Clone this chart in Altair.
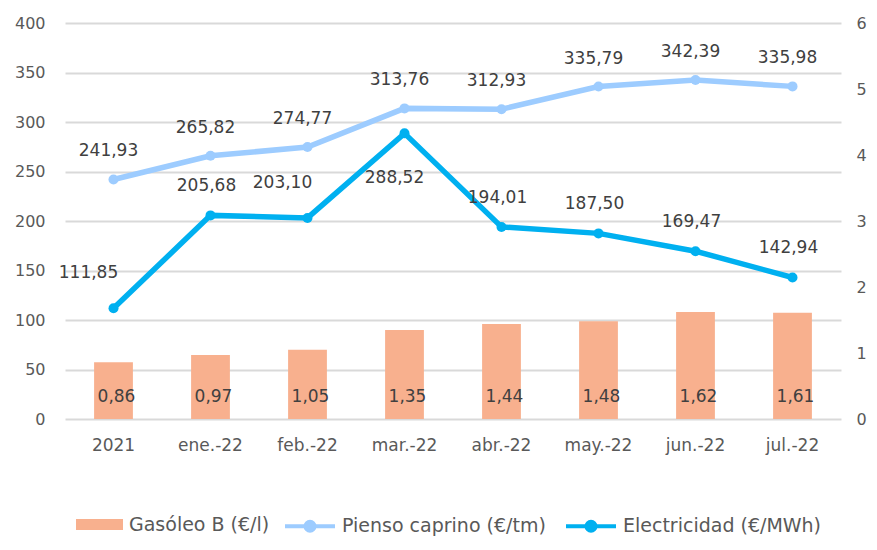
import altair as alt
import pandas as pd

meses = ["2021", "ene.-22", "feb.-22", "mar.-22", "abr.-22", "may.-22", "jun.-22", "jul.-22"]
gasoleo = [0.86, 0.97, 1.05, 1.35, 1.44, 1.48, 1.62, 1.61]
pienso = [241.93, 265.82, 274.77, 313.76, 312.93, 335.79, 342.39, 335.98]
electricidad = [111.85, 205.68, 203.10, 288.52, 194.01, 187.50, 169.47, 142.94]

S_GAS = "Gasóleo B (€/l)"
S_PIE = "Pienso caprino (€/tm)"
S_ELE = "Electricidad (€/MWh)"

C_GAS = "#F8B08E"
C_PIE = "#9DCCFF"
C_ELE = "#00B0F0"
TXT = "#595959"
LBL = "#404040"
FONT = "DejaVu Sans"

bars_df = pd.DataFrame({"mes": meses, "valor": gasoleo, "serie": S_GAS})
lines_df = pd.concat([
    pd.DataFrame({"mes": meses, "valor": pienso, "serie": S_PIE}),
    pd.DataFrame({"mes": meses, "valor": electricidad, "serie": S_ELE}),
], ignore_index=True)

label_expr = "replace(format(datum.valor, '.2f'), '.', ',')"

x = alt.X(
    "mes:N", sort=meses,
    scale=alt.Scale(paddingInner=0.6, paddingOuter=0.3),
    axis=alt.Axis(title=None, labelAngle=0, ticks=False, domain=False, grid=False,
                  labelPadding=18, labelFontSize=17, labelColor=TXT, labelFont=FONT),
)

# ---- bars (right axis) ----
yR = alt.Y(
    "valor:Q", scale=alt.Scale(domain=[0, 6]),
    axis=alt.Axis(orient="right", values=[0, 1, 2, 3, 4, 5, 6], grid=False, ticks=False,
                  domain=False, labelPadding=15, title=None, labelFontSize=16,
                  labelColor=TXT, labelFont=FONT, format="d"),
)
bar_base = alt.Chart(bars_df).transform_calculate(lab=label_expr)
bars = bar_base.mark_bar().encode(
    x=x, y=yR,
    fill=alt.Fill("serie:N", scale=alt.Scale(domain=[S_GAS], range=[C_GAS]),
                  legend=alt.Legend(orient="none", legendX=11, legendY=478, title=None,
                                    symbolType="M-1,-0.23H1V0.23H-1Z", symbolSize=2209,
                                    symbolStrokeWidth=0, symbolOpacity=1,
                                    labelFontSize=19, labelColor=TXT, labelFont=FONT,
                                    labelOffset=6, labelLimit=0, padding=0)),
)
bar_text = bar_base.mark_text(dy=-22, dx=3, baseline="middle", fontSize=17,
                              color=LBL, font=FONT).encode(
    x=x, y=alt.datum(0), text="lab:N")
bar_layer = alt.layer(bars, bar_text)

# ---- lines (left axis) ----
yL = alt.Y(
    "valor:Q", scale=alt.Scale(domain=[0, 400]),
    axis=alt.Axis(orient="left", values=list(range(0, 401, 50)), grid=True,
                  gridColor="#D9D9D9", gridWidth=2, ticks=False, domain=False,
                  labelPadding=20, title=None, labelFontSize=16, labelColor=TXT,
                  labelFont=FONT),
)
line_base = alt.Chart(lines_df).transform_calculate(lab=label_expr)
lines = line_base.mark_line(strokeWidth=5.5, point=alt.OverlayMarkDef(size=100, filled=True)).encode(
    x=x, y=yL,
    color=alt.Color("serie:N", scale=alt.Scale(domain=[S_PIE, S_ELE], range=[C_PIE, C_ELE]),
                    legend=alt.Legend(orient="none", legendX=218, legendY=476, title=None,
                                      direction="horizontal",
                                      symbolType="M-1,0H1M0.06,0A0.06,0.06,0,1,1,-0.06,0A0.06,0.06,0,1,1,0.06,0M0.18,0A0.18,0.18,0,1,1,-0.18,0A0.18,0.18,0,1,1,0.18,0",
                                      symbolSize=2500, symbolStrokeWidth=4,
                                      labelFontSize=19, labelColor=TXT, labelFont=FONT,
                                      labelOffset=5, labelLimit=0, columnPadding=12,
                                      padding=0)),
)

def txt(**kw):
    return line_base.mark_text(baseline="middle", fontSize=17, color=LBL, font=FONT, **kw)

ele_up = ["ene.-22", "abr.-22", "may.-22", "jun.-22", "jul.-22"]
ele_left = ["2021", "feb.-22"]
ele_down = ["mar.-22"]

def sel(serie, grupo=None):
    expr = f"datum.serie == '{serie}'"
    if grupo is not None:
        expr += " && indexof([" + ",".join(f"'{g}'" for g in grupo) + "], datum.mes) >= 0"
    return expr

pie_text = txt(dy=-28, dx=-5).transform_filter(sel(S_PIE)).encode(x=x, y=yL, text="lab:N")
ele_text_up = txt(dy=-29, dx=-4).transform_filter(sel(S_ELE, ele_up)).encode(x=x, y=yL, text="lab:N")
ele_text_left = txt(dy=-35, dx=-25).transform_filter(sel(S_ELE, ele_left)).encode(x=x, y=yL, text="lab:N")
ele_text_down = txt(dy=45, dx=-10).transform_filter(sel(S_ELE, ele_down)).encode(x=x, y=yL, text="lab:N")

line_layer = alt.layer(lines, pie_text, ele_text_up, ele_text_left, ele_text_down)

chart = alt.layer(bar_layer, line_layer).resolve_scale(
    y="independent", color="independent", fill="independent"
).properties(
    width=776, height=396,
    autosize=alt.AutoSizeParams(type="none"),
    padding={"left": 57, "top": 15, "right": 28, "bottom": 119},
).configure(font=FONT, view=alt.ViewConfig(stroke=None))

chart.save("out.html", embed_options={"renderer": "svg", "actions": False})
